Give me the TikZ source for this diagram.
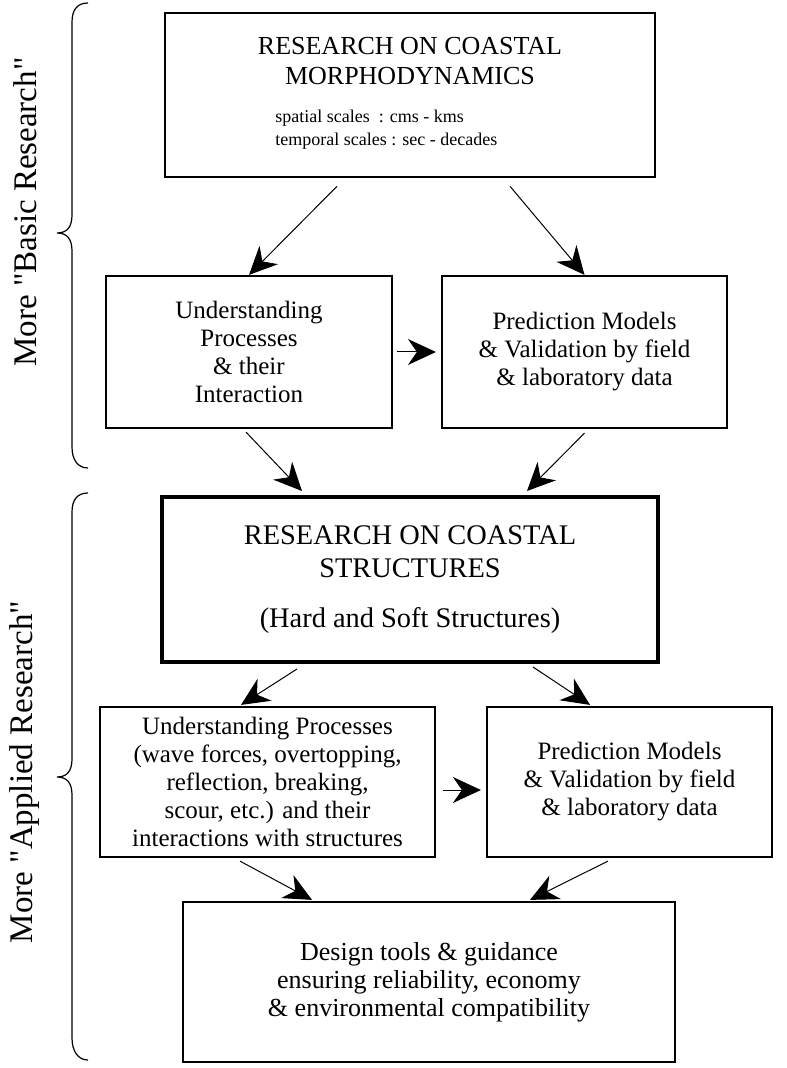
\documentclass[tikz,border=0pt]{standalone}
\usepackage{fontspec}
\setmainfont{Liberation Serif}
\usetikzlibrary{arrows.meta,calc}

\begin{document}
\begin{tikzpicture}[x=0.5pt,y=-0.5pt,
  box/.style={draw,line width=1.1pt,align=center,inner sep=0pt,
    font=\fontsize{12.5}{14}\selectfont},
  arr/.style={line width=0.5pt,-{Stealth[length=14pt,width=13pt,inset=4.5pt]}},
  brace/.style={line width=0.6pt},
  side/.style={rotate=90,inner sep=0pt,font=\fontsize{16.5}{19}\selectfont},
  txt/.style={inner sep=0pt}]
\useasboundingbox (0,0) rectangle (786,1068);

% frames
\node[box,line width=1.3pt,minimum width=245pt,minimum height=82pt] (b1) at (410,95) {};
\node[box,minimum width=143pt,minimum height=76pt] (b2) at (249,352)
  {Understanding\\Processes\\\& their\\Interaction};
\node[box,minimum width=142.5pt,minimum height=76pt] (b3) at (584.5,352)
  {Prediction Models\\\& Validation by field\\\& laboratory data};
\node[box,line width=2pt,minimum width=248pt,minimum height=82.5pt,
  font=\fontsize{14.2}{16.5}\selectfont] (b4) at (410,579.5)
  {RESEARCH ON COASTAL\\STRUCTURES\\[8.5pt](Hard and Soft Structures)};
\node[box,minimum width=167.5pt,minimum height=75pt] (b5) at (267.5,782)
  {Understanding Processes\\(wave forces, overtopping,\\reflection, breaking,\\scour, etc.) and their\\interactions with structures};
\node[box,minimum width=142.5pt,minimum height=75pt] (b6) at (629.5,782)
  {Prediction Models\\\& Validation by field\\\& laboratory data};
\node[box,minimum width=246pt,minimum height=80pt,
  font=\fontsize{13}{14}\selectfont] (b7) at (429,982)
  {Design tools \& guidance\\ensuring reliability, economy\\\& environmental compatibility};

% text of the top frame
\node[txt,align=center,font=\fontsize{13}{15}\selectfont] (t1) at (410,61.5)
  {RESEARCH ON COASTAL\\MORPHODYNAMICS};
\node[txt,align=left,anchor=west,font=\fontsize{9}{11.5}\selectfont] (s1) at (275,129.5)
  {spatial scales\ \ : cms - kms\\temporal scales : sec - decades};

% connectors
\draw[arr] ($(b1.south)+(-73,8)$) -- (b2.north);
\draw[arr] ($(b1.south)+(100,8)$) -- (b3.north);
\draw[arr] ($(b2.east)+(4,0)$) -- ($(b3.west)+(-5,0)$);
\draw[arr] ($(b2.south)+(-3,3)$) -- ($(b4.north)+(-108,-4)$);
\draw[arr] ($(b3.south)+(0,4)$) -- ($(b4.north)+(117,-4)$);
\draw[arr] ($(b4.south)+(-113,5)$) -- ($(b5.north)+(-26.5,-1)$);
\draw[arr] ($(b4.south)+(123,3)$) -- ($(b6.north)+(-39.5,-1)$);
\draw[arr] ($(b5.east)+(7,8)$) -- ($(b6.west)+(-5,8)$);
\draw[arr] ($(b5.south)+(-27.5,3)$) -- ($(b7.north)+(-117,-1)$);
\draw[arr] ($(b6.south)+(-21.5,3)$) -- ($(b7.north)+(101,-1)$);

% braces
\draw[brace] (88,3) .. controls (78,3) and (72,9) .. (72,22) -- (72,215)
  .. controls (72,227) and (67,233) .. (57,233)
  .. controls (67,233) and (72,239) .. (72,251) -- (72,447)
  .. controls (72,460) and (78,468) .. (88,468);
\draw[brace] (88,493) .. controls (78,493) and (72,499) .. (72,512) -- (72,759)
  .. controls (72,771) and (67,777) .. (57,777)
  .. controls (67,777) and (72,783) .. (72,795) -- (72,1038)
  .. controls (72,1051) and (78,1060) .. (88,1060);

% side labels
\node[side] (basic) at (25,212) {More \textquotedbl Basic Research\textquotedbl};
\node[side] (applied) at (25,772) {More \textquotedbl Applied Research\textquotedbl};
\end{tikzpicture}
\end{document}
